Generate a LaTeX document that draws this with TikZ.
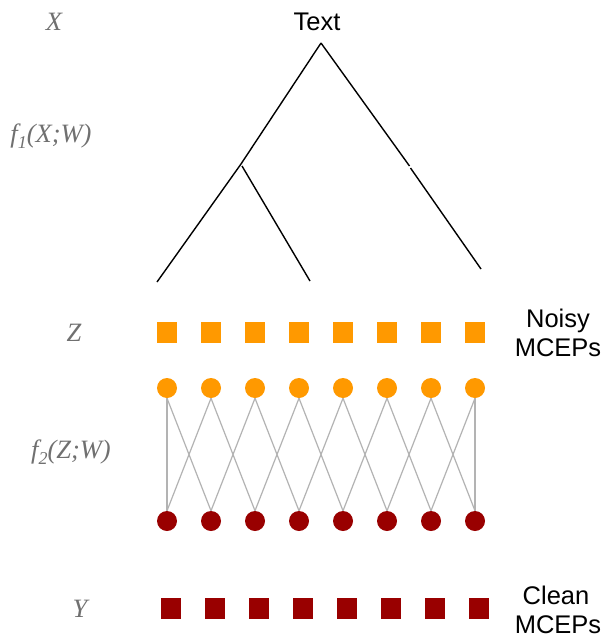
\documentclass[tikz,border=0pt]{standalone}
\usepackage{fontspec}
\setmainfont{Liberation Sans}
\newfontfamily\lblfont{Liberation Serif}
\definecolor{orng}{HTML}{FF9900}
\definecolor{dred}{HTML}{990000}
\definecolor{lgray}{HTML}{B3B3B3}
\definecolor{lbl}{HTML}{707070}
\begin{document}
\begin{tikzpicture}[x=1pt,y=-1pt,
  sq/.style={draw=none,minimum size=20.5pt,inner sep=0pt,rectangle},
  osq/.style={sq,fill=orng},
  rsq/.style={sq,fill=dred},
  dot/.style={circle,draw=none,minimum size=20pt,inner sep=0pt},
  odot/.style={dot,fill=orng},
  rdot/.style={dot,fill=dred},
  conn/.style={draw=lgray,line width=1.2pt},
  tree/.style={draw=black,line width=1.4pt},
  big/.style={font=\fontsize{25.5}{30}\selectfont,inner sep=0pt,anchor=base},
  side/.style={font=\lblfont\itshape\fontsize{26.5}{30}\selectfont,text=lbl,inner sep=0pt,anchor=base}]
\useasboundingbox[fill=white] (0,0) rectangle (607,634);
% left labels
\node[side] (lx) at (54,30.7) {X};
\node[side] (lf1) at (51,142) {f\raisebox{-0.5ex}{\fontsize{18}{18}\selectfont\itshape 1}(X;W)};
\node[side] (lz) at (74,341.7) {Z};
\node[side] (lf2) at (71,458) {f\raisebox{-0.5ex}{\fontsize{18}{18}\selectfont\itshape 2}(Z;W)};
\node[side] (ly) at (80,617.7) {Y};
% right labels
\node[big] (txt) at (317,30.7) {Text};
\node[big] (noisy) at (558,327.3) {Noisy};
\node[big] (mcep1) at (558,356.7) {MCEPs};
\node[big] (clean) at (556,604) {Clean};
\node[big] (mcep2) at (558,633.4) {MCEPs};
% tree
\coordinate (apex) at (321,43);
\coordinate (inner) at (241,164);
\coordinate (innerb) at (242,166);
\coordinate (l1) at (157,282);
\coordinate (l2) at (310,281);
\coordinate (rmid) at (409.5,166);
\coordinate (rmidb) at (410.5,168);
\coordinate (l3) at (481,269);
\draw[tree] (apex) -- (inner);
\draw[tree] (inner) -- (l1);
\draw[tree] (innerb) -- (l2);
\draw[tree] (apex) -- (rmid);
\draw[tree] (rmidb) -- (l3);
% layers
\foreach \i in {1,...,8}{
  \pgfmathsetmacro{\xx}{167+44*(\i-1)}
  \pgfmathsetmacro{\xr}{171+44*(\i-1)}
  \node[osq] (z\i) at (\xx,332.5) {};
  \node[odot] (o\i) at (\xx,388) {};
  \node[rdot] (r\i) at (\xx,521) {};
  \node[rsq] (y\i) at (\xr,608.5) {};
}
\foreach \i/\j in {1/1,1/2,2/1,2/3,3/2,3/4,4/3,4/5,5/4,5/6,6/5,6/7,7/6,7/8,8/7,8/8}{
  \draw[conn] (o\i.south) -- (r\j.north);
}
\end{tikzpicture}
\end{document}
